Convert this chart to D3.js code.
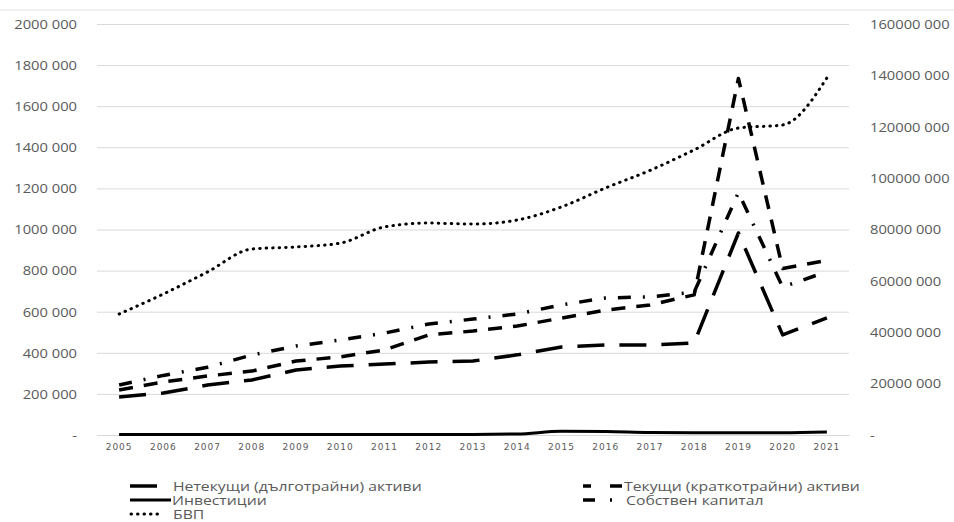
<!DOCTYPE html>
<html>
<head>
<meta charset="utf-8">
<script src="https://cdn.jsdelivr.net/npm/d3@7"></script>
<style>
  body { margin: 0; background: #fff; }
  svg { display: block; }
</style>
</head>
<body>
<main></main>
<script>
// Data (left axis: thousands BGN, right axis: GDP)
const years = ["2005","2006","2007","2008","2009","2010","2011","2012","2013","2014","2015","2016","2017","2018","2019","2020","2021"];
const nonCurrent = [185000, 204000, 243000, 268000, 316000, 336000, 345000, 355000, 360000, 390000, 428000, 438000, 438000, 448000, 983000, 487000, 570000];
const current = [219000, 258000, 287000, 311000, 360000, 380000, 414000, 487000, 506000, 530000, 569000, 608000, 633000, 682000, 1735000, 810000, 850000];
const investments = [2000, 2000, 2000, 3000, 3000, 3000, 3000, 3000, 3000, 5000, 18000, 17000, 12000, 11000, 11000, 11000, 15000];
const equity = [243000, 290000, 330000, 389000, 433000, 462000, 496000, 540000, 564000, 589000, 633000, 667000, 672000, 695000, 1180000, 720000, 795000];
const gdp = [47100000, 54900000, 63500000, 72400000, 73200000, 74700000, 81000000, 82500000, 82100000, 83700000, 88800000, 96200000, 103000000, 111000000, 119500000, 120700000, 139000000];

const leftTicks = [0, 200000, 400000, 600000, 800000, 1000000, 1200000, 1400000, 1600000, 1800000, 2000000];
const leftLabels = ["-", "200 000", "400 000", "600 000", "800 000", "1000 000", "1200 000", "1400 000", "1600 000", "1800 000", "2000 000"];
const rightTicks = [0, 20000000, 40000000, 60000000, 80000000, 100000000, 120000000, 140000000, 160000000];
const rightLabels = ["-", "20000 000", "40000 000", "60000 000", "80000 000", "100000 000", "120000 000", "140000 000", "160000 000"];

const seriesNames = ["Нетекущи (дълготрайни) активи", "Текущи (краткотрайни) активи", "Инвестиции", "Собствен капитал", "БВП"];

// Dimensions
const dimensions = {
  width: 954,
  height: 522,
  plotLeft: 97,
  plotRight: 849,
  plotTop: 24,
  plotBottom: 435,
};

const svg = d3.select("main")
  .append("svg")
    .attr("width", dimensions.width)
    .attr("height", dimensions.height);

// the reference text is drawn a little wider than the fonts here
const stretch = (sel, k) => sel.each(function() {
  const w = this.getComputedTextLength();
  d3.select(this)
    .attr("textLength", w * k)
    .attr("lengthAdjust", "spacingAndGlyphs");
});

// Scales
const xScale = d3.scaleBand()
  .domain(years)
  .range([dimensions.plotLeft, dimensions.plotRight])
  .padding(0);
const xPos = d => xScale(d) + xScale.bandwidth() / 2;

const yLeft = d3.scaleLinear()
  .domain([0, 2000000])
  .range([dimensions.plotBottom, dimensions.plotTop]);

const yRight = d3.scaleLinear()
  .domain([0, 160000000])
  .range([dimensions.plotBottom, dimensions.plotTop]);

// top border line
svg.append("line")
  .attr("x1", 0).attr("x2", dimensions.width)
  .attr("y1", 10).attr("y2", 10)
  .attr("stroke", "#e2e2e2")
  .attr("stroke-width", 1);

// Gridlines
const grid = svg.append("g")
  .attr("transform", `translate(${dimensions.plotLeft},0)`)
  .call(d3.axisLeft(yLeft)
    .tickValues(leftTicks)
    .tickSize(-(dimensions.plotRight - dimensions.plotLeft))
    .tickFormat(""));
grid.select(".domain").remove();
grid.selectAll("line").attr("stroke", "#d9d9d9").attr("stroke-width", 1);

// Left axis labels
const leftAxis = svg.append("g")
  .attr("transform", "translate(77,0)")
  .call(d3.axisLeft(yLeft)
    .tickValues(leftTicks)
    .tickSize(0)
    .tickPadding(0)
    .tickFormat((d, i) => leftLabels[i]));
leftAxis.select(".domain").remove();
leftAxis.selectAll("text")
  .attr("fill", "#595959")
  .style("font-family", "'Open Sans', sans-serif")
  .style("font-size", "13.5px")
  .call(stretch, 1.09);

// Right axis labels
const rightAxis = svg.append("g")
  .attr("transform", "translate(870,0)")
  .call(d3.axisRight(yRight)
    .tickValues(rightTicks)
    .tickSize(0)
    .tickPadding(0)
    .tickFormat((d, i) => rightLabels[i]));
rightAxis.select(".domain").remove();
rightAxis.selectAll("text")
  .attr("fill", "#595959")
  .style("font-family", "'Open Sans', sans-serif")
  .style("font-size", "13.5px")
  .call(stretch, 1.09);

// X axis
const xAxis = svg.append("g")
  .attr("transform", `translate(0,${dimensions.plotBottom})`)
  .call(d3.axisBottom(xScale).tickSize(0).tickPadding(9));
xAxis.select(".domain").attr("stroke", "#d9d9d9");
xAxis.selectAll("text")
  .attr("fill", "#595959")
  .style("font-family", "'DejaVu Sans', sans-serif")
  .style("font-size", "9px")
  .style("letter-spacing", "1px");

// Lines
const straight = d3.line()
  .x((d, i) => xPos(years[i]))
  .y(d => yLeft(d));

const smoothLeft = d3.line()
  .x((d, i) => xPos(years[i]))
  .y(d => yLeft(d))
  .curve(d3.curveMonotoneX);

const smoothRight = d3.line()
  .x((d, i) => xPos(years[i]))
  .y(d => yRight(d))
  .curve(d3.curveMonotoneX);

const styles = {
  nonCurrent: { dash: "27,15", width: 3.5, cap: "butt" },
  current: { dash: "14,11", width: 3.5, cap: "butt" },
  investments: { dash: null, width: 3, cap: "butt" },
  equity: { dash: "13,12,2,12", width: 3.5, cap: "butt" },
  gdp: { dash: "0.5,6", width: 3, cap: "round" },
};

const drawLine = (values, gen, st) => {
  svg.append("path")
    .datum(values)
    .attr("d", gen)
    .attr("fill", "none")
    .attr("stroke", "#000")
    .attr("stroke-width", st.width)
    .attr("stroke-linecap", st.cap)
    .attr("stroke-linejoin", "round")
    .attr("stroke-dasharray", st.dash);
};

drawLine(investments, smoothLeft, styles.investments);
drawLine(nonCurrent, straight, styles.nonCurrent);
drawLine(current, straight, styles.current);
drawLine(equity, straight, styles.equity);
drawLine(gdp, smoothRight, styles.gdp);

// Legend
const legendItems = [
  { name: seriesNames[0], st: styles.nonCurrent, x1: 130, x2: 160, tx: 173, y: 486 },
  { name: seriesNames[1], st: { dash: "8,19,12", width: 3.5, cap: "butt" }, x1: 583, x2: 622, tx: 624, y: 486 },
  { name: seriesNames[2], st: styles.investments, x1: 130, x2: 171, tx: 172, y: 500 },
  { name: seriesNames[3], st: { dash: "12,15,2,20", width: 3.5, cap: "butt" }, x1: 583, x2: 622, tx: 626, y: 500 },
  { name: seriesNames[4], st: { dash: "0.5,6", width: 3, cap: "round" }, x1: 131, x2: 162, tx: 173, y: 514 },
];

const legend = svg.append("g");
legend.selectAll("line")
  .data(legendItems)
  .enter()
  .append("line")
  .attr("x1", d => d.x1).attr("x2", d => d.x2)
  .attr("y1", d => d.y).attr("y2", d => d.y)
  .attr("stroke", "#000")
  .attr("stroke-width", d => d.st.width)
  .attr("stroke-linecap", d => d.st.cap)
  .attr("stroke-dasharray", d => d.st.dash);

legend.selectAll("text")
  .data(legendItems)
  .enter()
  .append("text")
  .attr("x", d => d.tx)
  .attr("y", d => d.y + 4.5)
  .text(d => d.name)
  .attr("fill", "#595959")
  .style("font-family", "'Open Sans', sans-serif")
  .style("font-size", "12.5px")
  .call(stretch, 1.26);
</script>
</body>
</html>
